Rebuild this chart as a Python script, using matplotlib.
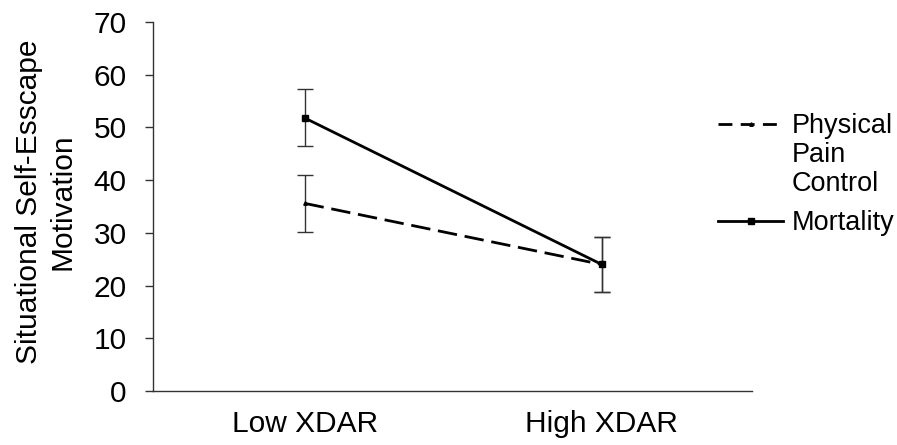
#!/usr/bin/python3

import matplotlib
matplotlib.use("Agg")
import matplotlib.pyplot as plt
from matplotlib.lines import Line2D

#data
categories = ["Low XDAR", "High XDAR"]
pain_mean = [35.6, 24.0]
pain_err = [5.4, 5.3]
mort_mean = [51.8, 24.0]
mort_err = [5.4, 5.3]
yticks = [0, 10, 20, 30, 40, 50, 60, 70]

#_____________________________________________________________________________
def main():

    plt.rcParams["font.family"] = ["Liberation Sans", "DejaVu Sans"]
    fsz = 21.5
    lsz = 19.5

    fig = plt.figure(figsize=(8.97, 4.45), dpi=100)
    ax = fig.add_axes([0.1706, 0.1213, 0.6677, 0.8293])

    xpos = list(range(len(categories)))

    #error bars
    ax.errorbar(xpos, pain_mean, yerr=pain_err, fmt="none", ecolor="#333333",
                elinewidth=1.0, capsize=6, capthick=1.0, zorder=2)
    ax.errorbar(xpos, mort_mean, yerr=mort_err, fmt="none", ecolor="#333333",
                elinewidth=1.0, capsize=6, capthick=1.0, zorder=2)

    #lines
    ax.plot(xpos, pain_mean, color="black", lw=2.0, ls=(0, (7, 2.8)),
            marker="^", ms=2.5, zorder=3)
    ax.plot(xpos, mort_mean, color="black", lw=2.0, ls="-",
            marker="s", ms=4.3, zorder=3)

    ax.set_xlim(-0.51, 1.505)
    ax.set_ylim(0, 70)
    ax.set_xticks(xpos)
    ax.set_xticklabels(categories, fontsize=fsz)
    ax.set_yticks(yticks)
    ax.set_yticklabels([str(v) for v in yticks], fontsize=fsz)
    ax.tick_params(axis="x", length=0, pad=14)
    ax.tick_params(axis="y", length=6, width=1.0, pad=13, color="#333333")

    ax.spines["top"].set_visible(False)
    ax.spines["right"].set_visible(False)
    for s in ["left", "bottom"]:
        ax.spines[s].set_color("#333333")
        ax.spines[s].set_linewidth(1.0)

    ax.set_ylabel("Situational Self-Esscape\nMotivation", fontsize=fsz,
                  labelpad=12, linespacing=1.25)
    ax.yaxis.label.set_y(0.514)

    #legend, first entry spans three lines with the handle at the top line
    h_pain = Line2D([0], [0], color="black", lw=2.0, ls=(0, (5, 3)), marker="^", ms=2.5)
    h_none = Line2D([0], [0], lw=0)
    h_mort = Line2D([0], [0], color="black", lw=2.0, ls="-", marker="s", ms=4.3)

    leg1 = ax.legend([h_pain, h_none, h_none], ["Physical", "Pain", "Control"],
                     loc="upper left", bbox_to_anchor=(0.801, 0.745),
                     bbox_transform=fig.transFigure, frameon=False,
                     fontsize=lsz, handlelength=2.4, handletextpad=0.3,
                     labelspacing=0.1, borderpad=0.0, borderaxespad=0.0)
    ax.add_artist(leg1)
    ax.legend([h_mort], ["Mortality"],
              loc="upper left", bbox_to_anchor=(0.801, 0.528),
              bbox_transform=fig.transFigure, frameon=False,
              fontsize=lsz, handlelength=2.4, handletextpad=0.3,
              borderpad=0.0, borderaxespad=0.0)

    fig.savefig("out.png", dpi=100)

#main

#_____________________________________________________________________________
if __name__ == "__main__":

    main()
